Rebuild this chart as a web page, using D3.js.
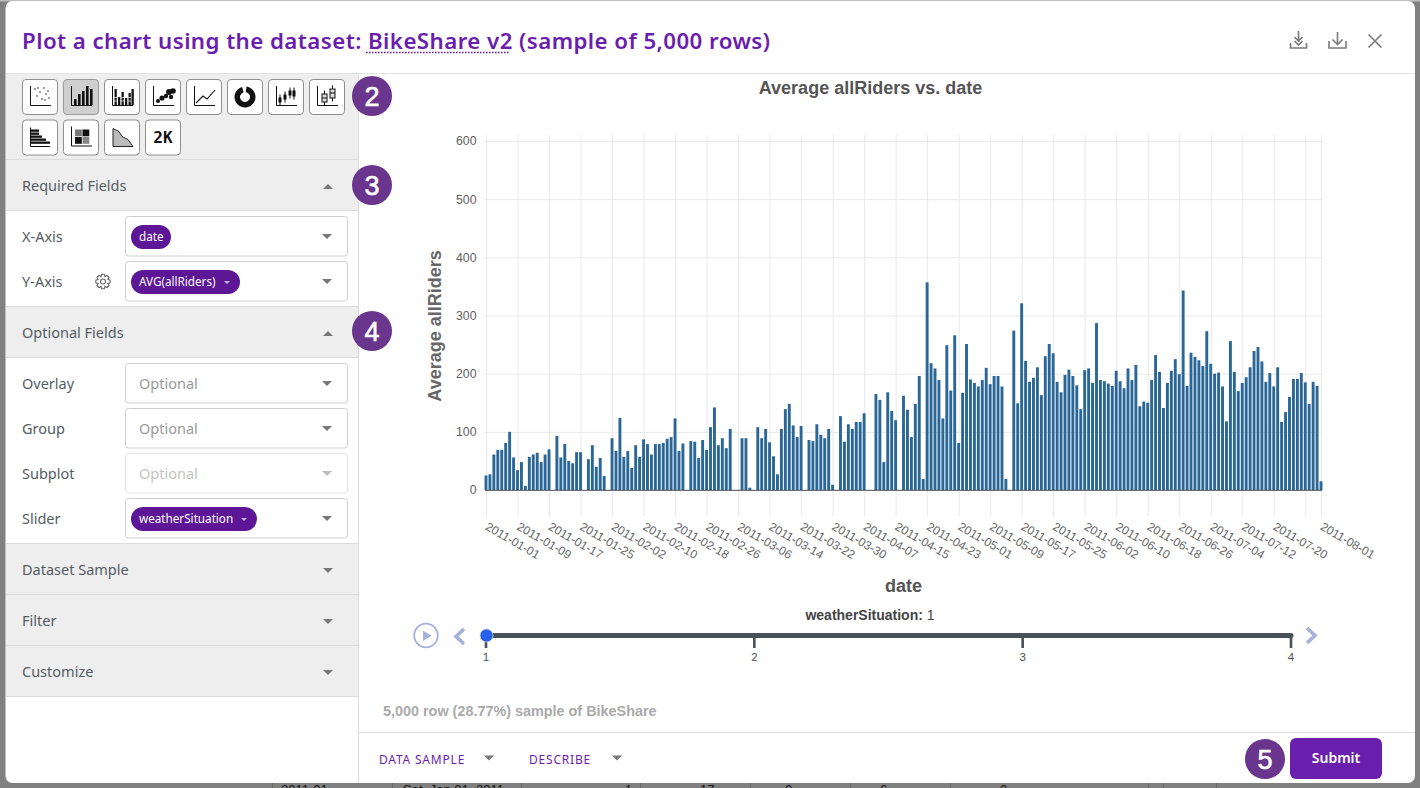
<!DOCTYPE html>
<html><head><meta charset="utf-8">
<script src="https://cdn.jsdelivr.net/npm/d3@7"></script>
<style>
html,body{margin:0;padding:0;background:#808080;overflow:hidden}
svg{display:block}
.ui{font-family:"Noto Sans",sans-serif}
.ch{font-family:"Liberation Sans",Arial,sans-serif}
</style></head><body>
<svg id="s" width="1420" height="788"></svg>
<script>
// ---------- chart data ----------
const startDate = "2011-01-01";
const avgRiders = [
 25,27,61,69,69,81,100,56,34,48,7,57,61,64,48,61,70,0,93,56,79,50,46,65,65,0,53,77,40,55,24,
 0,89,67,124,57,67,38,77,57,87,79,61,79,79,81,88,91,123,67,80,0,84,83,55,86,69,108,142,
 77,89,72,105,0,0,89,89,4,0,108,89,105,82,58,27,105,139,148,111,91,110,0,86,84,113,95,89,105,9,0,
 127,83,113,105,117,117,132,0,0,165,155,48,168,136,120,0,162,138,91,148,196,19,357,218,209,189,123,249,171,266,
 81,167,251,190,184,178,189,210,182,196,196,178,19,0,274,149,321,222,186,193,211,163,230,251,235,186,168,198,207,196,180,
 139,206,209,184,287,189,187,183,179,205,187,175,209,189,215,144,152,150,189,232,203,141,184,205,225,199,343,179,236,229,
 223,213,273,217,200,202,178,118,256,203,170,184,194,211,239,246,221,186,201,178,211,117,134,160,191,191,201,185,148,186,179,
 15];
const xTickDates = ["2011-01-01","2011-01-09","2011-01-17","2011-01-25","2011-02-02","2011-02-10","2011-02-18","2011-02-26",
 "2011-03-06","2011-03-14","2011-03-22","2011-03-30","2011-04-07","2011-04-15","2011-04-23","2011-05-01","2011-05-09",
 "2011-05-17","2011-05-25","2011-06-02","2011-06-10","2011-06-18","2011-06-26","2011-07-04","2011-07-12","2011-07-20",
 "2011-07-28","2011-08-01"];
const hiddenTickLabels = ["2011-07-28"];
const yTicks = [0,100,200,300,400,500,600];
const sliderValues = [1,2,3,4];
const chartTitle = "Average allRiders vs. date";
const yTitle = "Average allRiders";
const xTitle = "date";

// ---------- colours ----------
const PURPLE="#6a1eae", PILL="#5c1696", BADGE="#6a358c", TXT="#555d63", BORDER="#cfcfcf", SIDE="#eeeeee", PALE="#a3b1dc";

const svg=d3.select("#s");
const parse=d3.utcParse("%Y-%m-%d"), fmt=d3.utcFormat("%Y-%m-%d");

// frame
svg.append("rect").attr("width",1420).attr("height",788).attr("fill","#808080");
svg.append("rect").attr("width",1420).attr("height",1.5).attr("fill","#bdbdbd");
// page table behind the modal
const under=svg.append("g").attr("class","ch").attr("font-size",13).attr("fill","#111");
[[281,"2011-01"],[403,"Sat, Jan 01, 2011"],[625,"1"],[700,"17"],[785,"0"],[880,"6"],[1000,"0"]].forEach(d=>under.append("text").attr("x",d[0]).attr("y",794).text(d[1]));
[272,392,521,640,750,850,950,1148,1163,1216].forEach(x=>svg.append("line").attr("x1",x+.5).attr("x2",x+.5).attr("y1",782).attr("y2",788).attr("stroke","#666"));
// modal
svg.append("rect").attr("x",5.5).attr("y",1).attr("width",1409.5).attr("height",782).attr("rx",7).attr("fill","#fff");

// ---------- header ----------
const title=svg.append("text").attr("class","ui").attr("x",22).attr("y",49).attr("font-size",22.3).attr("font-weight",600).attr("letter-spacing",0.43).attr("fill",PURPLE);
title.append("tspan").text("Plot a chart using the dataset: ");
title.append("tspan").text("BikeShare v2");
title.append("tspan").text(" (sample of 5,000 rows)");
svg.append("line").attr("x1",366).attr("x2",510).attr("y1",52.5).attr("y2",52.5).attr("stroke",PURPLE).attr("stroke-width",1.4).attr("stroke-dasharray","1.6 1.4");
svg.append("line").attr("x1",6).attr("x2",1415).attr("y1",73.5).attr("y2",73.5).attr("stroke","#e2e2e2");
const hi=svg.append("g").attr("fill","none").attr("stroke","#7b7b7b").attr("stroke-width",1.6);
hi.append("path").attr("d","M1290.5 43v5h16v-5M1298.5 31v11M1294.5 37l4 4 4-4M1294.5 41l4 4 4-4");
hi.append("path").attr("d","M1329 41v7h17v-7M1337.5 32v12M1332.5 39.5l5 5 5-5");
hi.append("path").attr("d","M1368.5 34.5l13 13M1381.5 34.5l-13 13");

// ---------- sidebar ----------
svg.append("rect").attr("x",6).attr("y",74).attr("width",352).attr("height",86).attr("fill",SIDE);
svg.append("line").attr("x1",358.5).attr("x2",358.5).attr("y1",74).attr("y2",783).attr("stroke","#dcdcdc");
const sections=[["Required Fields",160,"up"],["Optional Fields",307,"up"],["Dataset Sample",544,"down"],["Filter",595,"down"],["Customize",646,"down"]];
sections.forEach(([t,y,dir])=>{
  svg.append("rect").attr("x",6).attr("y",y).attr("width",352).attr("height",50.5).attr("fill",SIDE);
  svg.append("line").attr("x1",6).attr("x2",358).attr("y1",y-.5).attr("y2",y-.5).attr("stroke","#dcdcdc");
  svg.append("line").attr("x1",6).attr("x2",358).attr("y1",y+50.5).attr("y2",y+50.5).attr("stroke","#dcdcdc");
  svg.append("text").attr("class","ui").attr("x",22).attr("y",y+31).attr("font-size",14.5).attr("fill",TXT).text(t);
  svg.append("path").attr("d",dir==="up"?`M323 ${y+29}h10l-5-5z`:`M323 ${y+24}h10l-5 5z`).attr("fill","#777");
});
const fields=[["X-Axis",216,"date",40,false],["Y-Axis",261,"AVG(allRiders)",109,true],["Overlay",363,null],["Group",408,null],["Subplot",453,null,0,false,true],["Slider",498,"weatherSituation",126,true]];
fields.forEach(([lab,y,pill,pw,caret,dis])=>{
  svg.append("text").attr("class","ui").attr("x",22).attr("y",y+25.5).attr("font-size",14.5).attr("fill",TXT).text(lab);
  svg.append("rect").attr("x",125.5).attr("y",y+.5).attr("width",222).attr("height",39.5).attr("rx",3).attr("fill","#fff").attr("stroke",dis?"#e3e3e3":BORDER);
  svg.append("path").attr("d",`M322 ${y+18}h10l-5 5z`).attr("fill",dis?"#bbb":"#777");
  if(pill){
    svg.append("rect").attr("x",131).attr("y",y+9).attr("width",pw).attr("height",24).attr("rx",12).attr("fill",PILL);
    svg.append("text").attr("class","ui").attr("x",139).attr("y",y+25).attr("font-size",11.7).attr("fill","#fff").text(pill);
    if(caret) svg.append("path").attr("d",`M${131+pw-16} ${y+20}h6l-3 3z`).attr("fill","#c9b6de");
  } else {
    svg.append("text").attr("class","ui").attr("x",139).attr("y",y+25.5).attr("font-size",14.5).attr("fill",dis?"#c4c4c4":"#9a9a9a").text("Optional");
  }
});
// gear
const gear=svg.append("g").attr("transform","translate(103,281.5)").attr("fill","none").attr("stroke","#666").attr("stroke-width",1.1);
gear.append("circle").attr("r",2.5);
gear.append("path").attr("d",d3.range(8).map(i=>{const a=i*Math.PI/4,b=a+Math.PI/8,c=a-Math.PI/8;const p=(r,t)=>[r*Math.cos(t),r*Math.sin(t)].join(" ");return (i?"L":"M")+p(5.3,c)+"L"+p(7.3,a-.18)+"L"+p(7.3,a+.18)+"L"+p(5.3,b);}).join("")+"Z");

// chart-type buttons
const btnX=[22,63,104,145,186,227,268,309];
const btns=[...btnX.map(x=>[x,79]),...btnX.slice(0,4).map(x=>[x,119.5])];
btns.forEach(([x,y],i)=>{
  const g=svg.append("g").attr("transform",`translate(${x},${y})`);
  g.append("rect").attr("x",.5).attr("y",.5).attr("width",35).attr("height",35).attr("rx",3.5).attr("fill",i===1?"#cfcfcf":"#fff").attr("stroke",i===1?"#9a9a9a":"#8f8f8f");
  const axes=()=>g.append("path").attr("d","M8.5 7v19.5H29").attr("fill","none").attr("stroke","#111").attr("stroke-width",1);
  const bars=(arr,w)=>arr.forEach(([bx,h])=>g.append("rect").attr("x",bx).attr("y",26-h).attr("width",w).attr("height",h).attr("fill","#111"));
  if(i===0){axes();[[13,10],[15,17],[18,13],[20,20],[22,9],[24,15],[26,12],[27,19],[16,9],[23,21]].forEach(p=>g.append("circle").attr("cx",p[0]).attr("cy",p[1]).attr("r",.8).attr("fill","#222"));}
  if(i===1){axes();bars([[11,6],[15,11],[19,14],[23,19],[27,16]],2.6);}
  if(i===2){axes();bars([[10.5,16],[14,8],[17.5,13],[21,7],[24.5,12],[27.5,16]],2.3);g.append("path").attr("d","M10 18.5H30M10 22H30").attr("stroke","#fff").attr("stroke-width",.7).attr("stroke-dasharray","3 4");}
  if(i===3){axes();[[13,22,2],[17,19,2.6],[21,17,2.2],[24,13,3],[28,12,2.8],[26,18,2.2]].forEach(p=>g.append("circle").attr("cx",p[0]).attr("cy",p[1]).attr("r",p[2]).attr("fill","#111"));}
  if(i===4){axes();g.append("path").attr("d","M10 24L17 17 21 20 29 11").attr("fill","none").attr("stroke","#111").attr("stroke-width",1.1);}
  if(i===5){g.append("path").attr("d",d3.arc().innerRadius(5).outerRadius(10.5).startAngle(.15).endAngle(6.0)()).attr("transform","translate(18,18)").attr("fill","#111");}
  if(i===6){axes();[[12,20,5],[17,17,5],[22,13,5],[26,13,6]].forEach(p=>{g.append("path").attr("d",`M${p[0]} ${p[1]-4.5}v${p[2]+6}`).attr("stroke","#111");g.append("rect").attr("x",p[0]-1.5).attr("y",p[1]-1.5).attr("width",3).attr("height",p[2]).attr("fill","#111");});}
  if(i===7){axes();[[14,15,8],[22,10,9]].forEach(p=>{g.append("path").attr("d",`M${p[0]+1.5} ${p[1]-3.5}v${p[2]+7}`).attr("stroke","#111");g.append("rect").attr("x",p[0]-1).attr("y",p[1]).attr("width",5).attr("height",p[2]).attr("fill","#ddd").attr("stroke","#111");g.append("path").attr("d",`M${p[0]-1} ${p[1]+4}h5`).attr("stroke","#111");});}
  if(i===8){g.append("path").attr("d","M8.5 8v19H28").attr("fill","none").attr("stroke","#111");[[10,8],[13,8],[16,11],[19,15],[22,19]].forEach(p=>g.append("rect").attr("x",9).attr("y",p[0]).attr("width",p[1]).attr("height",2.3).attr("fill","#111"));}
  if(i===9){axes();[[12,10,"#777"],[19.5,10,"#111"],[12,17.5,"#111"],[19.5,17.5,"#888"]].forEach(p=>g.append("rect").attr("x",p[0]).attr("y",p[1]).attr("width",6.8).attr("height",6.8).attr("fill",p[2]));}
  if(i===10){g.append("path").attr("d","M9 9L15 12 18 17 24 20 29 27H9Z").attr("fill","#bbb").attr("stroke","#111").attr("stroke-width",.9);}
  if(i===11){g.append("text").attr("x",18).attr("y",23.5).attr("text-anchor","middle").attr("font-family","DejaVu Sans Mono").attr("font-weight",700).attr("font-size",16).attr("fill","#111").text("2K");}
});
// numbered badges
[[372,96,"2"],[372,185,"3"],[372,331,"4"],[1265,759,"5"]].forEach(([x,y,t])=>{
  svg.append("circle").attr("cx",x).attr("cy",y).attr("r",20).attr("fill",BADGE);
  svg.append("text").attr("class","ch").attr("x",x).attr("y",y+9.5).attr("text-anchor","middle").attr("font-size",27).attr("fill","#fff").attr("stroke","#fff").attr("stroke-width",.6).text(t);
});

// ---------- chart ----------
const plot={l:486,r:1321,t:135,b:490,yTop:141};
const dates=avgRiders.map((_,i)=>d3.utcDay.offset(parse(startDate),i));
const x=d3.scaleUtc().domain([dates[0],dates[dates.length-1]]).range([plot.l,plot.r]);
const y=d3.scaleLinear().domain([0,600]).range([plot.b,plot.yTop]);
const chart=svg.append("g").attr("class","ch");

const yAxis=chart.append("g").attr("transform",`translate(${plot.l-.5},0)`)
  .call(d3.axisLeft(y).tickValues(yTicks).tickSize(0).tickPadding(9));
yAxis.select(".domain").remove();
yAxis.selectAll("text").attr("font-size",12.3).attr("fill","#5f5f5f").attr("font-family","Liberation Sans");
yAxis.selectAll(".tick").append("line").attr("x1",0).attr("x2",plot.r-plot.l+1).attr("stroke","#e9e9e9");

const xAxis=chart.append("g").attr("transform",`translate(0,${plot.b})`)
  .call(d3.axisBottom(x).tickValues(xTickDates.map(parse)).tickSize(0).tickFormat(d=>hiddenTickLabels.includes(fmt(d))?"":fmt(d)));
xAxis.select(".domain").remove();
xAxis.selectAll("text").attr("font-size",12).attr("fill","#666").attr("font-family","Liberation Sans")
  .attr("text-anchor","start").attr("dy",0).attr("y",0)
  .attr("transform","translate(-2,39) rotate(30)");
xAxis.selectAll(".tick").append("line").attr("y1",plot.t-plot.b).attr("y2",26).attr("stroke","#e9e9e9");

chart.append("g").selectAll("rect").data(dates.map((d,i)=>({d,v:avgRiders[i]})).filter(e=>e.v>0)).join("rect")
  .attr("x",e=>x(e.d)-1.45).attr("width",2.9)
  .attr("y",e=>y(e.v)).attr("height",e=>y(0)-y(e.v))
  .attr("fill","#2a6797");
chart.append("line").attr("x1",plot.l-1).attr("x2",plot.r+1).attr("y1",plot.b+.3).attr("y2",plot.b+.3).attr("stroke","#4a4f55").attr("stroke-width",1);

chart.append("text").attr("x",870.5).attr("y",93.5).attr("text-anchor","middle").attr("font-size",18).attr("font-weight",700).attr("fill","#555").text(chartTitle);
chart.append("text").attr("transform","translate(441,326) rotate(-90)").attr("text-anchor","middle").attr("font-size",18).attr("font-weight",700).attr("fill","#666").text(yTitle);
chart.append("text").attr("x",903.5).attr("y",591.5).attr("text-anchor","middle").attr("font-size",18).attr("font-weight",700).attr("fill","#555").text(xTitle);

// ---------- slider ----------
const sx=d3.scalePoint().domain(sliderValues).range([486,1291]);
const sl=svg.append("g").attr("class","ch");
const st=sl.append("text").attr("x",870).attr("y",620).attr("text-anchor","middle").attr("font-size",14).attr("fill","#444");
st.append("tspan").attr("font-weight",700).text("weatherSituation: ");
st.append("tspan").text(sliderValues[0]);
sl.append("line").attr("x1",486).attr("x2",1291).attr("y1",635.5).attr("y2",635.5).attr("stroke","#495057").attr("stroke-width",5).attr("stroke-linecap","round");
sliderValues.forEach(v=>{
  sl.append("line").attr("x1",sx(v)).attr("x2",sx(v)).attr("y1",636).attr("y2",648).attr("stroke","#495057").attr("stroke-width",2.6);
  sl.append("text").attr("x",sx(v)).attr("y",661).attr("text-anchor","middle").attr("font-size",11.5).attr("fill","#495057").text(v);
});
sl.append("circle").attr("cx",486.5).attr("cy",635.5).attr("r",6.5).attr("fill","#2762e8").attr("stroke","#c9cfd9").attr("stroke-width",.8);
svg.append("circle").attr("cx",426).attr("cy",635.5).attr("r",11.8).attr("fill","none").attr("stroke",PALE).attr("stroke-width",1.8);
svg.append("path").attr("d","M423 630.5v10.5l8.5-5.2z").attr("fill",PALE);
svg.append("path").attr("d","M464 629l-8 7.5 8 7.5").attr("fill","none").attr("stroke",PALE).attr("stroke-width",3.6);
svg.append("path").attr("d","M1307 628l8 7.5-8 7.5").attr("fill","none").attr("stroke",PALE).attr("stroke-width",3.6);

// ---------- footer ----------
svg.append("text").attr("class","ch").attr("x",383).attr("y",716).attr("font-size",14.4).attr("font-weight",700).attr("fill","#aaaaaa").text("5,000 row (28.77%) sample of BikeShare");
svg.append("line").attr("x1",359).attr("x2",1415).attr("y1",732.5).attr("y2",732.5).attr("stroke","#dedede");
[[379,"DATA SAMPLE",489],[529,"DESCRIBE",617]].forEach(([tx,t,ax])=>{
  svg.append("text").attr("class","ui").attr("x",tx).attr("y",764).attr("font-size",12).attr("letter-spacing",0.8).attr("fill",PURPLE).text(t);
  svg.append("path").attr("d",`M${ax-5} 755.5h10l-5 5z`).attr("fill","#777");
});
svg.append("rect").attr("x",1290).attr("y",738).attr("width",92).attr("height",41).attr("rx",6).attr("fill",PURPLE);
svg.append("text").attr("class","ui").attr("x",1336).attr("y",763).attr("text-anchor","middle").attr("font-size",14).attr("font-weight",600).attr("fill","#fff").text("Submit");
</script>
</body></html>
